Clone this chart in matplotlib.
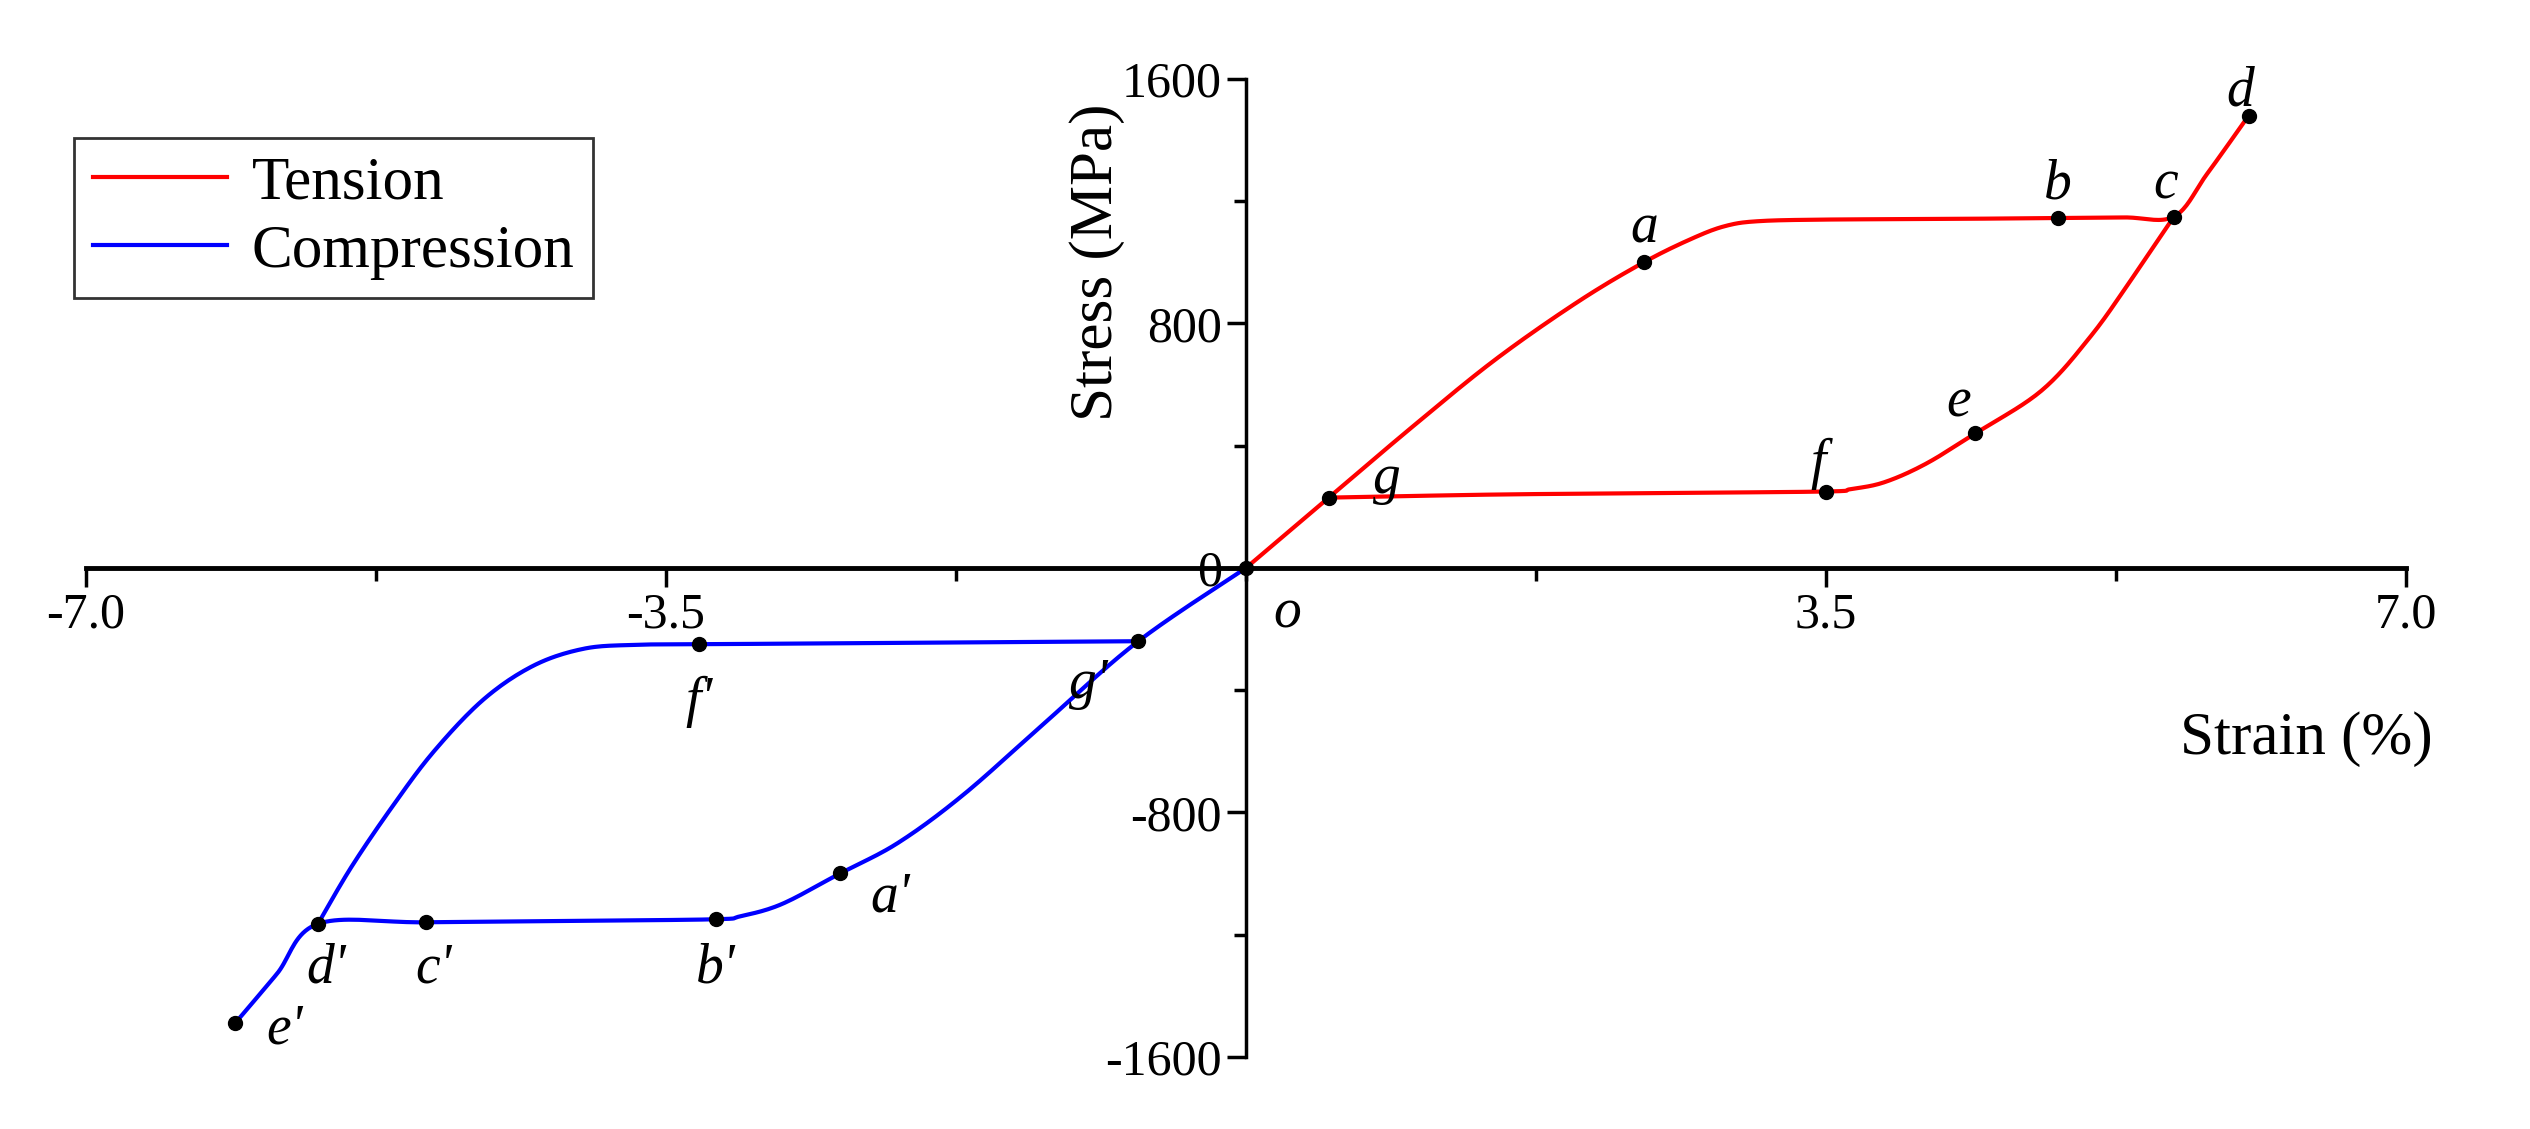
import matplotlib.pyplot as plt
import numpy as np

plt.rcParams['font.family'] = ['Liberation Serif', 'DejaVu Serif']
plt.rcParams['axes.unicode_minus'] = False

# tension curve (strain %, stress MPa)
ten_x = [0, 0.5, 1.0, 1.5, 2.0, 2.4, 2.7, 2.9, 3.1, 3.5, 4.2, 4.9, 5.3, 5.6, 5.8, 6.05]
ten_y = [0, 230, 460, 680, 870, 1000, 1080, 1120, 1135, 1140, 1142, 1145, 1147, 1150, 1290, 1480]
ten_ux = [5.6, 5.35, 5.1, 4.8, 4.4, 4.1, 3.85, 3.65, 3.5, 2.5, 1.5, 0.5]
ten_uy = [1150, 950, 760, 580, 440, 340, 280, 258, 250, 245, 240, 230]
# compression curve
com_x = [0, -0.65, -1.2, -1.7, -2.1, -2.45, -2.8, -3.05, -3.2, -4.0, -4.95, -5.6, -5.85, -6.1]
com_y = [0, -240, -500, -740, -900, -1000, -1100, -1140, -1150, -1155, -1160, -1165, -1330, -1490]
com_ux = [-5.6, -5.4, -5.15, -4.9, -4.6, -4.3, -4.0, -3.7, -3.3, -2.0, -0.65]
com_uy = [-1165, -980, -780, -600, -430, -320, -265, -252, -250, -245, -240]

pts = {'o': (0, 0), 'g': (0.5, 230), 'a': (2.4, 1000), 'b': (4.9, 1145), 'c': (5.6, 1150),
       'd': (6.05, 1480), 'e': (4.4, 440), 'f': (3.5, 250)}
pts_c = {"g'": (-0.65, -240), "f'": (-3.3, -250), "a'": (-2.45, -1000), "b'": (-3.2, -1150),
         "c'": (-4.95, -1160), "d'": (-5.6, -1165), "e'": (-6.1, -1490)}
label_off = {'o': (0.25, -150), 'g': (0.85, 290), 'a': (2.4, 1110), 'b': (4.9, 1255), 'c': (5.55, 1255),
             'd': (6.0, 1560), 'e': (4.3, 540), 'f': (3.45, 340),
             "g'": (-0.95, -380), "f'": (-3.3, -440), "a'": (-2.15, -1080), "b'": (-3.2, -1310),
             "c'": (-4.9, -1310), "d'": (-5.55, -1310), "e'": (-5.8, -1510)}


def smooth(xs, ys, n=20):
    # catmull-rom path through the read points, just to round the corners
    p = np.column_stack([xs, ys]).astype(float)
    p = np.vstack([p[0], p, p[-1]])
    out = []
    t = np.linspace(0, 1, n, endpoint=False)[:, None]
    for i in range(1, len(p) - 2):
        p0, p1, p2, p3 = p[i - 1], p[i], p[i + 1], p[i + 2]
        out.append(0.5 * (2 * p1 + (-p0 + p2) * t + (2 * p0 - 5 * p1 + 4 * p2 - p3) * t ** 2
                          + (-p0 + 3 * p1 - 3 * p2 + p3) * t ** 3))
    out.append(p[-2][None, :])
    out = np.vstack(out)
    return out[:, 0], out[:, 1]


fig = plt.figure(figsize=(25.3, 11.29), dpi=100)
ax = fig.add_axes([0.034, 0.064, 0.917, 0.866])
sx, sy = smooth(ten_x, ten_y)
ax.plot(sx, sy, color='red', lw=3, label='Tension')
sx, sy = smooth(ten_ux, ten_uy)
ax.plot(sx, sy, color='red', lw=3)
sx, sy = smooth(com_x, com_y)
ax.plot(sx, sy, color='blue', lw=3, label='Compression')
sx, sy = smooth(com_ux, com_uy)
ax.plot(sx, sy, color='blue', lw=3)
for k, (x, y) in list(pts.items()) + list(pts_c.items()):
    ax.plot(x, y, 'o', color='black', ms=10, zorder=5)
    ax.text(label_off[k][0], label_off[k][1], k, fontsize=40, style='italic', ha='center', va='center')

ax.set_xlim(-7, 7)
ax.set_ylim(-1600, 1600)
ax.spines['left'].set_position(('data', 0))
ax.spines['bottom'].set_position(('data', 0))
ax.spines['top'].set_visible(False)
ax.spines['right'].set_visible(False)
ax.spines['bottom'].set_linewidth(3.5)
ax.spines['left'].set_linewidth(2.5)
ax.set_xticks([-7, -3.5, 3.5, 7])
ax.set_xticklabels(['-7.0', '-3.5', '3.5', '7.0'])
ax.set_xticks(np.arange(-7, 7.1, 1.75), minor=True)
ax.set_yticks([-1600, -800, 0, 800, 1600])
ax.set_yticks(np.arange(-1600, 1601, 400), minor=True)
ax.tick_params(axis='both', which='major', labelsize=36, length=14, width=2.5, direction='out')
ax.tick_params(axis='both', which='minor', length=9, width=2.5, direction='out')
ax.text(-0.9, 1000, 'Stress (MPa)', rotation=90, fontsize=44, ha='center', va='center')
ax.text(6.4, -560, 'Strain (%)', fontsize=44, ha='center', va='center')
leg = ax.legend(loc='upper left', bbox_to_anchor=(-0.005, 0.94), fontsize=44, fancybox=False,
                edgecolor='black', handlelength=2.2, borderpad=0.3, labelspacing=0.2,
                handletextpad=0.4, borderaxespad=0)
leg.get_frame().set_linewidth(2)
fig.savefig('out.png')
